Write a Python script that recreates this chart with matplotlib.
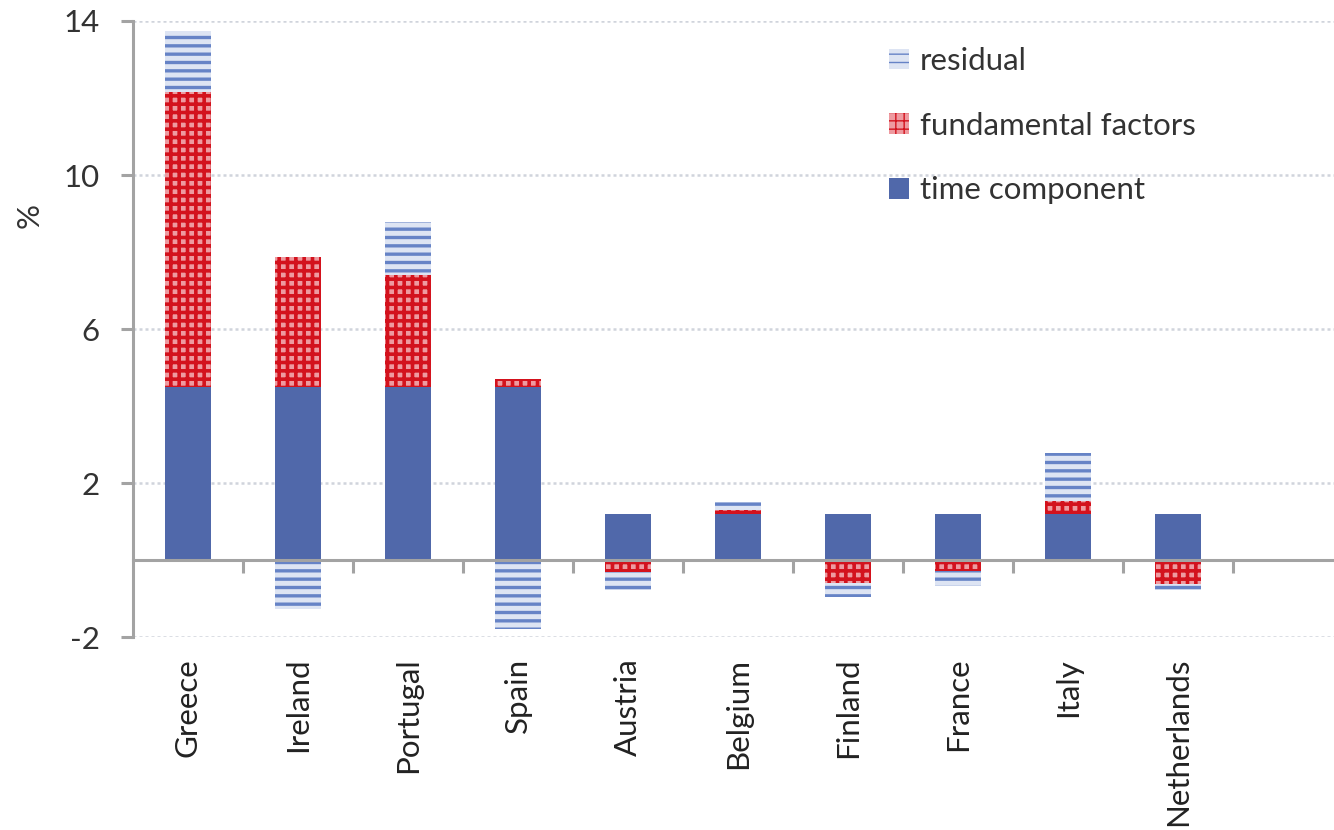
import numpy as np
import matplotlib
matplotlib.use("Agg")
import matplotlib.pyplot as plt

# Decomposition of sovereign spreads by country (percentage points)
countries = ["Greece", "Ireland", "Portugal", "Spain", "Austria",
             "Belgium", "Finland", "France", "Italy", "Netherlands"]
time_component = [4.5, 4.5, 4.5, 4.5, 1.2, 1.2, 1.2, 1.2, 1.2, 1.2]
fundamental_factors = [7.65, 3.38, 2.91, 0.2, -0.31, 0.1, -0.6, -0.28, 0.34, -0.62]
residual = [1.6, -1.27, 1.38, -1.8, -0.46, 0.2, -0.35, -0.39, 1.23, -0.15]
y_ticks = [-2, 2, 6, 10, 14]

FONT = "Lato"
FS = 22.5
plt.rcParams["font.family"] = [FONT, "DejaVu Sans"]
plt.rcParams["axes.unicode_minus"] = False

W, H = 1334, 830
fig = plt.figure(figsize=(W / 100, H / 100), dpi=100)
ax = fig.add_axes([133 / W, 1 - 637 / H, (1343 - 133) / W, (637 - 21) / H])

x = np.arange(len(countries))
bar_w = 0.41

series = [
    (time_component, dict(color="#5068AA"), "time component", 0.0),
    (fundamental_factors, dict(facecolor="#EE9AA0", edgecolor="#D3121D",
                               hatch="++", linewidth=0), "fundamental factors", 2.6),
    (residual, dict(facecolor="#DDE4F3", edgecolor="#6683C6",
                    hatch="--", linewidth=0), "residual", 2.4),
]

pos_base = np.zeros(len(x))
neg_base = np.zeros(len(x))
containers = []
for vals, style, label, hlw in series:
    v = np.asarray(vals, dtype=float)
    bottoms = np.where(v >= 0, pos_base, neg_base)
    with plt.rc_context({"hatch.linewidth": hlw if hlw else 1.0}):
        bc = ax.bar(x, v, bar_w, bottom=bottoms, label=label, zorder=2, **style)
    if hlw:
        for p in bc.patches:
            if hasattr(p, "set_hatch_linewidth"):
                p.set_hatch_linewidth(hlw)
    containers.append(bc)
    pos_base += np.clip(v, 0, None)
    neg_base += np.clip(v, None, 0)

ax.set_xlim(-0.5, len(countries) + 0.5)
ax.set_ylim(-2, 14)

axis_grey = "#A3A3A3"
for s in ["top", "right"]:
    ax.spines[s].set_visible(False)
for s in ["left", "bottom"]:
    ax.spines[s].set_color(axis_grey)
    ax.spines[s].set_linewidth(2.2)
ax.spines["bottom"].set_position(("data", 0))
ax.spines["bottom"].set_zorder(3)

# category boundary ticks on the zero line
ax.set_xticks(np.arange(len(countries)) + 0.5)
ax.set_xticklabels([])
ax.tick_params(axis="x", direction="out", length=9, width=2.2, color=axis_grey)

ax.set_yticks(y_ticks)
ax.tick_params(axis="y", direction="out", length=9, width=2.2, color=axis_grey,
               labelsize=FS, labelcolor="#333333", pad=15)
ax.yaxis.grid(True, linestyle=(0, (1.2, 1.2)), color="#D0D4DC", linewidth=1.8)
ax.set_axisbelow(True)

# country names along the bottom edge
sec = ax.secondary_xaxis(0.0)
sec.set_xticks(x)
sec.set_xticklabels(countries, rotation=90, fontsize=FS, color="#222222")
sec.tick_params(length=0, pad=15)
for s in sec.spines.values():
    s.set_visible(False)

fig.text(30 / W, 1 - 215 / H, "%", rotation=90, ha="center", va="center",
         fontsize=FS, color="#333333")

handles = containers[::-1]
leg = ax.legend(handles, [c.get_label() for c in handles],
                loc="upper left", bbox_to_anchor=(889 / W, 1 - 47 / H),
                bbox_transform=fig.transFigure, frameon=False, fontsize=FS,
                handlelength=0.65, handleheight=0.65, handletextpad=0.35,
                labelspacing=1.17, borderpad=0, borderaxespad=0)
for t in leg.get_texts():
    t.set_color("#333333")

fig.savefig("out.png", dpi=100)
